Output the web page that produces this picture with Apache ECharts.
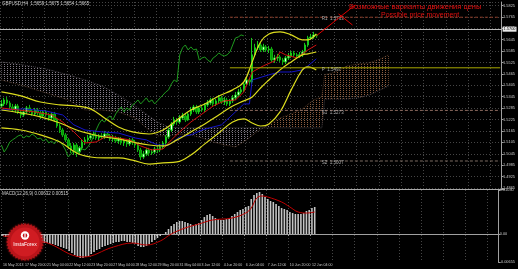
<!DOCTYPE html>
<html><head><meta charset="utf-8">
<script src="https://cdn.jsdelivr.net/npm/echarts@6/dist/echarts.min.js"></script>
<style>html,body{margin:0;padding:0;background:#000;}#c{width:518px;height:269px;}</style>
</head><body><div id="c"></div>
<script>
// ---------- data ----------
const timeLabels = ["16 May 2013","17 May 20:00","21 May 04:00","22 May 12:00","23 May 20:00","27 May 04:00","28 May 12:00","29 May 20:00","31 May 04:00","3 Jun 12:00","4 Jun 20:00","6 Jun 04:00","7 Jun 12:00","10 Jun 20:00","12 Jun 04:00"];
const labelStep = 8;
const totalSlots = 180;

// [open, close, low, high]
const candles = [
[1.5296,1.5307,1.5286,1.5328],[1.5307,1.5328,1.5296,1.5339],[1.5328,1.5312,1.5302,1.5344],[1.5312,1.5291,1.5281,1.5323],
[1.5291,1.5275,1.5265,1.5307],[1.5275,1.5296,1.5260,1.5307],[1.5296,1.5265,1.5254,1.5307],[1.5265,1.5249,1.5233,1.5275],
[1.5249,1.5265,1.5239,1.5281],[1.5265,1.5286,1.5254,1.5296],[1.5286,1.5270,1.5260,1.5302],[1.5270,1.5254,1.5244,1.5281],
[1.5254,1.5275,1.5244,1.5286],[1.5275,1.5260,1.5249,1.5286],[1.5260,1.5244,1.5228,1.5270],[1.5244,1.5265,1.5233,1.5275],
[1.5265,1.5249,1.5239,1.5275],[1.5249,1.5233,1.5218,1.5260],[1.5233,1.5254,1.5223,1.5265],[1.5254,1.5223,1.5212,1.5265],
[1.5223,1.5191,1.5181,1.5233],[1.5191,1.5170,1.5154,1.5202],[1.5170,1.5144,1.5133,1.5181],[1.5144,1.5118,1.5107,1.5154],
[1.5118,1.5086,1.5070,1.5128],[1.5086,1.5065,1.5049,1.5102],[1.5065,1.5091,1.5039,1.5102],[1.5091,1.5054,1.5028,1.5102],
[1.5054,1.5076,1.5044,1.5086],[1.5076,1.5107,1.5065,1.5118],[1.5107,1.5118,1.5091,1.5133],[1.5118,1.5128,1.5107,1.5144],
[1.5128,1.5139,1.5118,1.5154],[1.5139,1.5144,1.5123,1.5160],[1.5144,1.5128,1.5118,1.5154],[1.5128,1.5139,1.5112,1.5149],
[1.5139,1.5133,1.5123,1.5154],[1.5133,1.5149,1.5123,1.5165],[1.5149,1.5139,1.5128,1.5160],[1.5139,1.5123,1.5112,1.5149],
[1.5123,1.5128,1.5107,1.5144],[1.5128,1.5112,1.5102,1.5139],[1.5112,1.5123,1.5097,1.5133],[1.5123,1.5102,1.5091,1.5133],
[1.5102,1.5112,1.5086,1.5123],[1.5112,1.5097,1.5081,1.5123],[1.5097,1.5118,1.5086,1.5128],[1.5118,1.5107,1.5091,1.5128],
[1.5107,1.5091,1.5076,1.5118],[1.5091,1.5065,1.5054,1.5102],[1.5065,1.5028,1.5012,1.5076],[1.5028,1.5044,1.5018,1.5060],
[1.5044,1.5065,1.5033,1.5076],[1.5065,1.5049,1.5033,1.5076],[1.5049,1.5054,1.5039,1.5070],[1.5054,1.5070,1.5044,1.5081],
[1.5070,1.5065,1.5049,1.5086],[1.5065,1.5081,1.5054,1.5097],[1.5081,1.5102,1.5070,1.5112],[1.5102,1.5133,1.5091,1.5144],
[1.5133,1.5170,1.5123,1.5181],[1.5170,1.5202,1.5160,1.5212],[1.5202,1.5223,1.5191,1.5239],[1.5223,1.5212,1.5197,1.5233],
[1.5212,1.5233,1.5202,1.5249],[1.5233,1.5244,1.5223,1.5260],[1.5244,1.5223,1.5212,1.5254],[1.5223,1.5254,1.5218,1.5265],
[1.5254,1.5275,1.5244,1.5291],[1.5275,1.5291,1.5265,1.5302],[1.5291,1.5265,1.5254,1.5302],[1.5265,1.5286,1.5254,1.5296],
[1.5286,1.5275,1.5265,1.5302],[1.5275,1.5302,1.5265,1.5312],[1.5302,1.5312,1.5291,1.5328],[1.5312,1.5328,1.5302,1.5339],
[1.5328,1.5307,1.5296,1.5339],[1.5307,1.5323,1.5296,1.5333],[1.5323,1.5339,1.5312,1.5354],[1.5339,1.5317,1.5307,1.5349],
[1.5317,1.5328,1.5302,1.5344],[1.5328,1.5307,1.5296,1.5339],[1.5307,1.5323,1.5296,1.5333],[1.5323,1.5339,1.5312,1.5354],
[1.5339,1.5354,1.5328,1.5370],[1.5354,1.5370,1.5344,1.5386],[1.5370,1.5381,1.5360,1.5396],[1.5381,1.5412,1.5370,1.5423],
[1.5412,1.5433,1.5402,1.5449],[1.5433,1.5423,1.5407,1.5444],[1.5423,1.5565,1.5412,1.5654],[1.5565,1.5602,1.5554,1.5623],
[1.5602,1.5617,1.5591,1.5638],[1.5617,1.5591,1.5580,1.5628],[1.5591,1.5607,1.5580,1.5623],[1.5607,1.5591,1.5580,1.5617],
[1.5591,1.5596,1.5575,1.5612],[1.5596,1.5538,1.5528,1.5607],[1.5538,1.5549,1.5523,1.5565],[1.5549,1.5554,1.5533,1.5570],
[1.5554,1.5538,1.5528,1.5565],[1.5538,1.5528,1.5512,1.5549],[1.5528,1.5549,1.5517,1.5559],[1.5549,1.5559,1.5538,1.5575],
[1.5559,1.5575,1.5549,1.5586],[1.5575,1.5565,1.5554,1.5586],[1.5565,1.5559,1.5549,1.5575],[1.5559,1.5565,1.5549,1.5580],
[1.5565,1.5580,1.5554,1.5591],[1.5580,1.5617,1.5570,1.5628],[1.5617,1.5654,1.5607,1.5665],[1.5654,1.5659,1.5644,1.5675],
[1.5659,1.5670,1.5649,1.5686],[1.5670,1.5665,1.5654,1.5675]
];

// Bollinger bands (read at sparse bars)
const bbBars   = [0,7,14,21,27,32,37,42,47,53,58,63,68,73,78,83,87,90,93,96,100,104,108,110,113];
const bbUpper  = [1.5370,1.5349,1.5317,1.5302,1.5296,1.5281,1.5233,1.5186,1.5160,1.5149,1.5170,1.5223,1.5275,1.5307,1.5349,1.5381,1.5423,1.5528,1.5633,1.5675,1.5686,1.5670,1.5644,1.5644,1.5675];
const bbMiddle = [1.5275,1.5260,1.5239,1.5207,1.5170,1.5149,1.5133,1.5123,1.5107,1.5091,1.5086,1.5118,1.5160,1.5202,1.5249,1.5296,1.5323,1.5344,1.5391,1.5433,1.5486,1.5528,1.5565,1.5570,1.5580];
const bbLower  = [1.5181,1.5170,1.5144,1.5107,1.5049,1.5028,1.5023,1.5023,1.5012,1.4991,1.4997,1.5002,1.5039,1.5097,1.5154,1.5212,1.5228,1.5207,1.5191,1.5202,1.5265,1.5381,1.5486,1.5502,1.5486];

// Ichimoku
const tenkanBars = [0,6,12,18,22,26,30,34,38,42,46,50,54,58,61,64,68,72,76,80,84,87,90,94,98,100,102,106,110,113];
const tenkan     = [1.5286,1.5275,1.5265,1.5249,1.5212,1.5160,1.5102,1.5107,1.5139,1.5128,1.5118,1.5086,1.5065,1.5070,1.5118,1.5160,1.5212,1.5254,1.5296,1.5323,1.5328,1.5370,1.5475,1.5507,1.5533,1.5580,1.5565,1.5549,1.5591,1.5617];
const kijunBars  = [0,8,16,22,26,30,36,42,48,52,56,60,64,68,72,76,79,84,87,89,90,96,100,104,108,110,113];
const kijun      = [1.5275,1.5281,1.5270,1.5249,1.5197,1.5170,1.5160,1.5154,1.5128,1.5118,1.5091,1.5091,1.5133,1.5144,1.5170,1.5186,1.5197,1.5265,1.5307,1.5307,1.5433,1.5460,1.5475,1.5475,1.5486,1.5507,1.5544];
const chikouShift = 26;
const cloudBars = [0,8,16,24,30,36,42,48,52,56,60,64,68,72,76,80,84,88,92,96,100,104,108,112,115,116,120,124,128,132,136,139];
const spanA = [1.5433,1.5402,1.5365,1.5328,1.5275,1.5275,1.5265,1.5233,1.5181,1.5139,1.5139,1.5149,1.5144,1.5128,1.5107,1.5091,1.5081,1.5118,1.5165,1.5197,1.5233,1.5254,1.5281,1.5328,1.5344,1.5460,1.5475,1.5507,1.5517,1.5523,1.5544,1.5565];
const spanB = [1.5528,1.5512,1.5491,1.5460,1.5433,1.5402,1.5354,1.5296,1.5254,1.5212,1.5186,1.5181,1.5181,1.5181,1.5181,1.5181,1.5181,1.5181,1.5181,1.5181,1.5181,1.5181,1.5181,1.5181,1.5181,1.5333,1.5333,1.5333,1.5339,1.5354,1.5381,1.5402];

// Pivot levels
const pivotNames  = ["R1","P","S1","S2"];
const pivotValues = [1.5763,1.5497,1.5273,1.5007];
const pivotStartBar = 82;
const pivotLabelBar = 115;

// Forecast drawing
const forecastMain = [[113,1.5665],[127,1.5828]];
const forecastAlt  = [[121,1.5780],[126,1.5722]];

// MACD
const macdHist = [
-0.00047,-0.00070,-0.00070,-0.00094,-0.00094,
-0.00117,-0.00117,-0.00140,-0.00140,-0.00164,-0.00164,-0.00164,-0.00187,-0.00187,-0.00187,-0.00211,
-0.00211,-0.00234,-0.00234,-0.00257,-0.00281,-0.00304,-0.00328,-0.00351,
-0.00398,-0.00445,-0.00491,-0.00538,-0.00562,-0.00562,-0.00538,
-0.00515,-0.00468,-0.00421,-0.00374,-0.00351,-0.00304,-0.00281,-0.00257,-0.00234,-0.00211,
-0.00187,-0.00187,-0.00164,-0.00164,-0.00187,-0.00187,-0.00211,-0.00234,-0.00281,-0.00304,
-0.00304,-0.00281,-0.00234,-0.00187,-0.00140,-0.00094,-0.00047,-0.00010,
0.00047,0.00117,0.00187,0.00234,0.00281,0.00304,0.00304,
0.00281,0.00257,0.00234,0.00211,0.00234,0.00257,
0.00328,0.00398,0.00445,0.00468,0.00421,0.00374,0.00351,
0.00328,0.00328,0.00351,0.00374,0.00421,0.00468,0.00515,0.00562,
0.00585,0.00632,0.00655,
0.00819,0.00913,0.00959,
0.00983,0.00936,0.00866,0.00819,0.00772,0.00749,0.00702,0.00655,0.00608,0.00585,0.00562,
0.00515,0.00491,0.00468,0.00468,0.00468,0.00491,0.00538,0.00562,0.00608,0.00632
];
const signalBars = [0,15,29,40,47,52,57,61,66,71,76,83,88,90,92,94,96,101,104,107,110,113];
const signal     = [-0.00047,-0.00187,-0.00538,-0.00304,-0.00211,-0.00257,-0.00164,0,0.00140,0.00234,0.00328,0.00374,0.00491,0.00608,0.00842,0.00889,0.00866,0.00749,0.00632,0.00515,0.00491,0.00515];
const macdAxisLabels = [0.0103, 0, -0.00655];

// ---------- build ----------
const cats = [];
for (let i = 0; i < totalSlots; i++) {
  cats.push(i % labelStep === 0 && i / labelStep < timeLabels.length ? timeLabels[i / labelStep] : '');
}
const pair = (bars, vals) => bars.map((b, i) => [b, vals[i]]);
const closes = candles.map(c => c[1]);
const lastClose = closes[closes.length - 1];
const chikou = closes.slice(chikouShift).map((v, i) => [i, v]);
const cloudSegs = [];
for (let k = 0; k < cloudBars.length - 1; k++) {
  cloudSegs.push([cloudBars[k], cloudBars[k+1], spanA[k], spanA[k+1], spanB[k], spanB[k+1]]);
}

function makePattern(color) {
  const cv = document.createElement('canvas');
  cv.width = 3; cv.height = 2;
  const ctx = cv.getContext('2d');
  ctx.fillStyle = color;
  ctx.fillRect(1, 0, 1, 1);
  return { image: cv, repeat: 'repeat' };
}
const patBear = makePattern('#847c88');
const patBull = makePattern('#8e5e40');

const FONT = 'Liberation Sans';
const gridDot = { color: '#454545', type: [1, 2], width: 1 };
const lbl = { color: '#c8c8c8', fontSize: 3.9, fontFamily: FONT };

const lineS = (name, data, color, width, smooth, extra) => Object.assign({
  type: 'line', name, data, xAxisIndex: 0, yAxisIndex: 0, symbol: 'none', smooth: smooth,
  lineStyle: { color, width }, silent: true, z: 4
}, extra || {});

// logo spikes
const spikes = [];
for (let i = 0; i < 72; i++) {
  const a = i / 72 * Math.PI * 2, r = i % 2 ? 16.5 : 19;
  spikes.push([25 + r * Math.cos(a), 242 + r * Math.sin(a)]);
}

const option = {
  backgroundColor: '#000',
  animation: false,
  textStyle: { fontFamily: FONT },
  grid: [
    { left: 0, right: 13, top: 2, height: 186 },
    { left: 0, right: 13, top: 190, height: 72 }
  ],
  xAxis: [
    { type: 'category', gridIndex: 0, data: cats, boundaryGap: true,
      axisLine: { show: false }, axisTick: { show: false }, axisLabel: { show: false },
      splitLine: { show: true, interval: (i) => i % labelStep === 0, lineStyle: gridDot } },
    { type: 'category', gridIndex: 1, data: cats, boundaryGap: true,
      axisLine: { show: true, lineStyle: { color: '#a0a0a0', width: 1 } },
      axisTick: { show: true, interval: (i) => cats[i] !== '', length: 2, lineStyle: { color: '#a0a0a0' } },
      axisLabel: Object.assign({ show: true, showMinLabel: true, hideOverlap: false, interval: (i) => cats[i] !== '', align: 'left', margin: 1.5 }, lbl, { fontSize: 3.55 }),
      splitLine: { show: true, interval: (i) => i % labelStep === 0, lineStyle: gridDot } }
  ],
  yAxis: [
    { type: 'value', gridIndex: 0, position: 'right', min: 1.4865, max: 1.5843, interval: 0.006,
      axisLine: { show: true, lineStyle: { color: '#a0a0a0', width: 1 } },
      axisTick: { show: true, length: 2, lineStyle: { color: '#a0a0a0' } },
      axisLabel: Object.assign({ margin: 1.5, showMaxLabel: false, formatter: v => v.toFixed(4) }, lbl),
      splitLine: { show: true, lineStyle: gridDot } },
    { type: 'value', gridIndex: 1, position: 'right', min: -0.00655, max: 0.0103,
      axisLine: { show: true, lineStyle: { color: '#a0a0a0', width: 1 } },
      axisTick: { show: true, length: 2, customValues: macdAxisLabels, lineStyle: { color: '#a0a0a0' } },
      axisLabel: Object.assign({ margin: 1.5, customValues: macdAxisLabels,
        formatter: v => v === 0 ? '0.00' : v.toFixed(5) }, lbl),
      splitLine: { show: false } }
  ],
  series: [
    { type: 'custom', name: 'cloud', xAxisIndex: 0, yAxisIndex: 0, data: cloudSegs, silent: true, z: 1,
      encode: { x: [0, 1], y: [2, 3, 4, 5] },
      renderItem: (params, api) => {
        const x0 = api.value(0), x1 = api.value(1);
        const a0 = api.value(2), a1 = api.value(3), b0 = api.value(4), b1 = api.value(5);
        const pts = [api.coord([x0, a0]), api.coord([x1, a1]), api.coord([x1, b1]), api.coord([x0, b0])];
        const bull = (a0 + a1) > (b0 + b1);
        return { type: 'polygon', shape: { points: pts }, style: { fill: bull ? patBull : patBear } };
      } },
    lineS('spanA', pair(cloudBars, spanA), '#7a5238', 0.6, false, { z: 2, lineStyle: { color: '#7a5238', width: 0.6, type: [1, 1] } }),
    lineS('spanB', pair(cloudBars, spanB), '#706a74', 0.6, false, { z: 2, lineStyle: { color: '#706a74', width: 0.6, type: [1, 1] } }),
    { type: 'candlestick', name: 'GBPUSD', xAxisIndex: 0, yAxisIndex: 0, data: candles, barWidth: 2, z: 3, silent: true,
      itemStyle: { color: '#f0fff0', color0: '#009a00', borderColor: '#18c818', borderColor0: '#10b010', borderWidth: 1 },
      markLine: { symbol: 'none', silent: true, data: [{ yAxis: lastClose }],
        lineStyle: { color: '#b8b8b8', type: 'solid', width: 1 },
        label: { show: true, position: 'end', distance: 1, formatter: p => p.value.toFixed(4),
          backgroundColor: '#e8e8e8', color: '#000', fontSize: 3.9, fontFamily: FONT, padding: [1, 1, 0, 1] } } },
    lineS('chikou', chikou, '#1e9a1e', 1, false),
    lineS('kijun', pair(kijunBars, kijun), '#1414c8', 1, false),
    lineS('tenkan', pair(tenkanBars, tenkan), '#d01010', 1, false),
    lineS('bbUpper', pair(bbBars, bbUpper), '#dcdc1e', 1.2, 0.4),
    lineS('bbMiddle', pair(bbBars, bbMiddle), '#dcdc1e', 1.2, 0.4),
    lineS('bbLower', pair(bbBars, bbLower), '#dcdc1e', 1.2, 0.4),
    lineS('R1', [[pivotStartBar, pivotValues[0]], [totalSlots - 1, pivotValues[0]]], '#8c3c28', 1, false, { lineStyle: { color: '#8c3c28', width: 1, type: [3, 2] } }),
    lineS('P',  [[pivotStartBar, pivotValues[1]], [totalSlots - 1, pivotValues[1]]], '#a8a800', 1, false),
    lineS('S1', [[pivotStartBar, pivotValues[2]], [totalSlots - 1, pivotValues[2]]], '#8c6a5e', 1, false, { lineStyle: { color: '#8c6a5e', width: 1, type: [3, 2] } }),
    lineS('S2', [[pivotStartBar, pivotValues[3]], [totalSlots - 1, pivotValues[3]]], '#7c6c62', 1, false, { lineStyle: { color: '#7c6c62', width: 1, type: [3, 2] } }),
    { type: 'scatter', name: 'pivotLabels', xAxisIndex: 0, yAxisIndex: 0, symbolSize: 0, silent: true, z: 6,
      data: pivotValues.map((v, i) => ({ value: [pivotLabelBar, v], name: pivotNames[i] })),
      label: { show: true, position: 'right', distance: 0, offset: [0, 2], color: '#d0d0d0', fontSize: 4.5, fontFamily: FONT,
        formatter: p => p.name + '  ' + p.value[1].toFixed(4) } },
    lineS('forecastMain', forecastMain, '#e00000', 1, false, { z: 7 }),
    lineS('forecastAlt', forecastAlt, '#e00000', 1, false, { z: 7 }),
    { type: 'bar', name: 'MACD', xAxisIndex: 1, yAxisIndex: 1, data: macdHist, barWidth: 1.6, silent: true,
      itemStyle: { color: '#c4c4c4' } },
    { type: 'line', name: 'Signal', xAxisIndex: 1, yAxisIndex: 1, data: pair(signalBars, signal), symbol: 'none',
      smooth: 0.4, silent: true, lineStyle: { color: '#c00000', width: 1 }, z: 5 }
  ],
  graphic: { elements: [
    { type: 'line', shape: { x1: 0, y1: 189.5, x2: 505, y2: 189.5 }, style: { stroke: '#a8a8a8', lineWidth: 1 }, z: 50, silent: true },
    { type: 'text', x: 2, y: 1, style: { text: 'GBPUSD,H4  1.5659 1.5675 1.5654 1.5665', fill: '#d0d0d0', font: '4.5px "Liberation Sans"' }, z: 50 },
    { type: 'text', x: 2, y: 191, style: { text: 'MACD(12,26,9) 0.00632 0.00515', fill: '#d0d0d0', font: '4.5px "Liberation Sans"' }, z: 50 },
    { type: 'text', x: 349, y: 3, style: { text: 'Возможные варианты движения цены', fill: '#e01010', font: '7.5px "Liberation Sans"' }, z: 50 },
    { type: 'text', x: 381, y: 12, style: { text: 'Possible price movement', fill: '#e01010', font: '7px "Liberation Sans"' }, z: 50 },
    { type: 'polygon', shape: { points: spikes }, style: { fill: '#b8141a', shadowBlur: 2, shadowColor: '#ff2020' }, z: 60 },
    { type: 'circle', shape: { cx: 25, cy: 242, r: 14.5 }, style: { fill: '#d01c22' }, z: 61 },
    { type: 'circle', shape: { cx: 25, cy: 235.5, r: 4.2 }, style: { fill: '#ffffff' }, z: 62 },
    { type: 'circle', shape: { cx: 25, cy: 235.5, r: 2.2 }, style: { fill: '#c01018' }, z: 63 },
    { type: 'rect', shape: { x: 24.4, y: 233, width: 1.2, height: 5 }, style: { fill: '#ffffff' }, z: 64 },
    { type: 'text', x: 25, y: 242.5, style: { text: 'InstaForex', fill: '#ffffff', font: '5px "Liberation Sans"', textAlign: 'center', align: 'center' }, z: 64 }
  ] }
};

const chart = echarts.init(document.getElementById('c'), null, { renderer: 'canvas', width: 518, height: 269 });
chart.setOption(option);
</script>
</body></html>
